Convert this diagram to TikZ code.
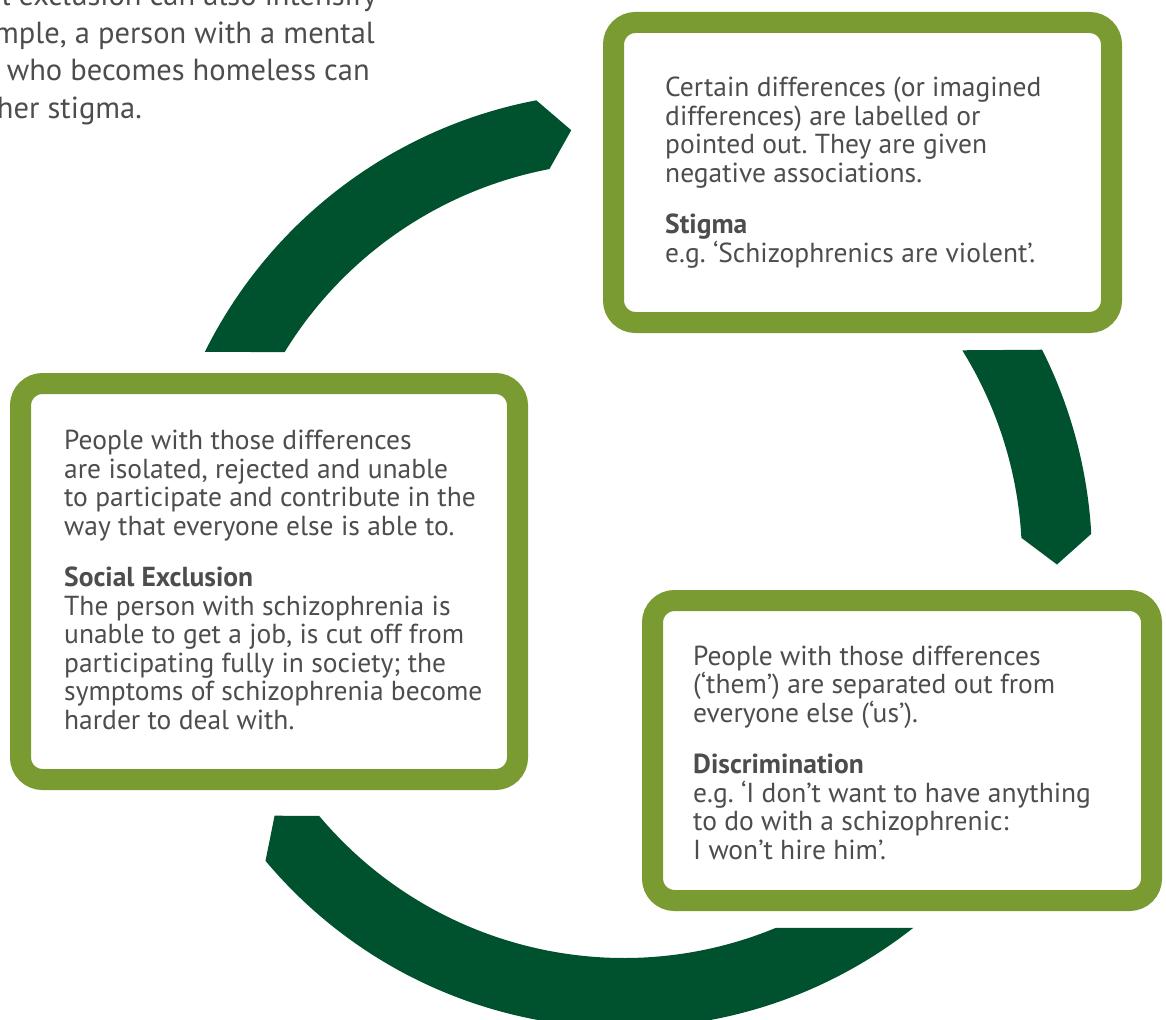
\documentclass[tikz,border=0pt]{standalone}
\usepackage{fontspec}
\setmainfont{PT Sans}
\definecolor{boxgreen}{HTML}{7A9A32}
\definecolor{arcgreen}{HTML}{00522E}
\definecolor{txtgrey}{HTML}{4D4D4F}
\frenchspacing
\begin{document}
\begin{tikzpicture}[x=1pt,y=1pt,
  panel/.style={draw=boxgreen, line width=21pt, rounded corners=22pt, fill=white, inner sep=0pt, rectangle},
  bodytext/.style={text=txtgrey, font=\fontsize{27.5}{28.5}\selectfont, align=left, inner sep=0pt, anchor=base west},
  notetext/.style={text=txtgrey, font=\fontsize{30.5}{37.5}\selectfont, inner sep=0pt, anchor=base east},
  cyclearrow/.style={fill=arcgreen, draw=none}]
\useasboundingbox (0,0) rectangle (1166,-1019);
\clip (0,0) rectangle (1166,-1019);

% cut-off note at the top left
\node[notetext] (note1) at (377,-6) {al exclusion can also intensify};
\node[notetext] (note2) at (375,-43.5) {mple, a person with a mental};
\node[notetext] (note3) at (370,-81) {who becomes homeless can};
\node[notetext] (note4) at (142,-118.5) {her stigma.};

% cycle arrows (ring centred at (624,-560))
\begin{scope}[shift={(624,-560)}]
  \fill[cyclearrow] (153.6:468) arc[start angle=153.6, end angle=100.8, radius=468]
     -- (97.0:433) -- (100.8:398) arc[start angle=100.8, end angle=148.5, radius=398] -- cycle;
  \fill[cyclearrow] (31.8:398) arc[start angle=31.8, end angle=3.2, radius=398]
     -- (-0.6:433) -- (3.2:468) arc[start angle=3.2, end angle=26.7, radius=468] -- cycle;
  \fill[cyclearrow] (308.2:468) arc[start angle=308.2, end angle=220, radius=468]
     -- (216.2:433) -- (220:398) arc[start angle=220, end angle=292.4, radius=398] -- cycle;
\end{scope}

% boxes
\node[panel, minimum width=498pt, minimum height=300pt] (stigmabox) at (862.5,-172.5) {};
\node[panel, minimum width=497pt, minimum height=396pt] (exclusionbox) at (269,-581.5) {};
\node[panel, minimum width=499pt, minimum height=300pt] (discrimbox) at (902,-750.5) {};

% texts (anchored at the baseline of their last line)
\node[bodytext] (stigmatext) at (665,-262) {Certain differences (or imagined\\differences) are labelled or\\pointed out. They are given\\negative associations.\\[23pt]\textbf{Stigma}\\e.g. ‘Schizophrenics are violent’.};
\node[bodytext] (exclusiontext) at (64,-729) {People with those differences\\are isolated, rejected and unable\\to participate and contribute in the\\way that everyone else is able to.\\[23pt]\textbf{Social Exclusion}\\The person with schizophrenia is\\unable to get a job, is cut off from\\participating fully in society; the\\symptoms of schizophrenia become\\harder to deal with.};
\node[bodytext] (discrimtext) at (693,-859) {People with those differences\\(‘them’) are separated out from\\everyone else (‘us’).\\[23pt]\textbf{Discrimination}\\e.g. ‘I don’t want to have anything\\to do with a schizophrenic:\\I won’t hire him’.};
\end{tikzpicture}
\end{document}
